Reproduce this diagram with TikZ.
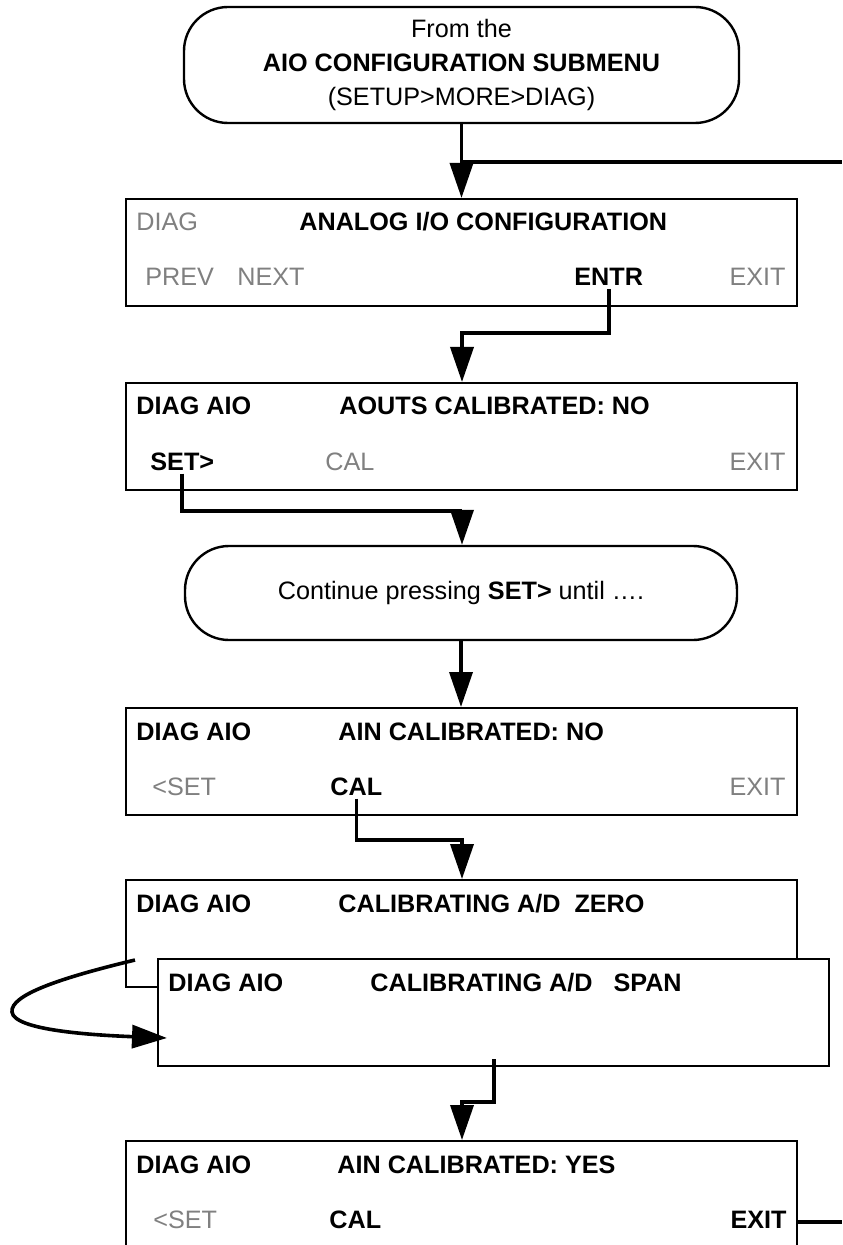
\documentclass[tikz,border=0pt]{standalone}
\usepackage{fontspec}
\setmainfont{Liberation Sans}
\usetikzlibrary{arrows.meta,calc}
\newcommand\figfs{\fontsize{12.6}{17}\selectfont}
\begin{document}
\begin{tikzpicture}[x=0.5pt,y=-0.5pt,
  font=\figfs,
  box/.style={draw,line width=1.2pt,fill=white,anchor=north west,inner sep=0pt,minimum width=335.5pt,minimum height=53.5pt},
  term/.style={draw,line width=1.2pt,rounded corners=22pt,align=center,inner sep=0pt},
  lab/.style={inner sep=1.5pt},
  bl/.style={lab,font=\figfs\bfseries},
  dim/.style={lab,text=black!50},
  conn/.style={line width=1.8pt,-{Triangle[length=17.5pt,width=11.5pt]}},
  wire/.style={line width=1.8pt},
]
\useasboundingbox (0,0) rectangle (842,1245);

% terminators
\node[term,minimum width=277.5pt,minimum height=58pt] (t1) at (461.5,65)
  {From the\\\textbf{AIO CONFIGURATION SUBMENU}\\(SETUP>MORE>DIAG)};
\node[term,minimum width=276pt,minimum height=47pt] (t2) at (461,593)
  {Continue pressing \textbf{SET>} until ….};

% boxes
\node[box] (b1) at (125,198) {};
\node[box] (b2) at (125,382) {};
\node[box] (b3) at (125,707) {};
\node[box] (b4) at (125,879) {};
\node[box] (b5) at (157,958) {};
\node[box] (b6) at (125,1140) {};

% box 1
\node[dim,anchor=base west] (b1a) at (133,231) {DIAG};
\node[bl,anchor=base west] (b1b) at (296,231) {ANALOG I/O CONFIGURATION};
\node[dim,anchor=base west] (b1c) at (142,286) {PREV};
\node[dim,anchor=base west] (b1d) at (234,286) {NEXT};
\node[bl,anchor=base west] (entr) at (571,286) {ENTR};
\node[dim,anchor=base east] (b1e) at (789,286) {EXIT};

% box 2
\node[bl,anchor=base west] (b2a) at (133,415) {DIAG AIO};
\node[bl,anchor=base west] (b2b) at (336,415) {AOUTS CALIBRATED: NO};
\node[bl,anchor=base west] (setb) at (147,470) {SET>};
\node[dim,anchor=base west] (b2c) at (322,470) {CAL};
\node[dim,anchor=base east] (b2d) at (789,470) {EXIT};

% box 3
\node[bl,anchor=base west] (b3a) at (133,740) {DIAG AIO};
\node[bl,anchor=base west] (b3b) at (335,740) {AIN CALIBRATED: NO};
\node[dim,anchor=base west] (b3c) at (149,795) {<SET};
\node[bl,anchor=base west] (cal3) at (327,795) {CAL};
\node[dim,anchor=base east] (b3d) at (789,795) {EXIT};

% box 4
\node[bl,anchor=base west] (b4a) at (133,912) {DIAG AIO};
\node[bl,anchor=base west] (b4b) at (335,912) {CALIBRATING A/D\ \ ZERO};

% box 5
\node[bl,anchor=base west] (b5a) at (165,991) {DIAG AIO};
\node[bl,anchor=base west] (b5b) at (367,991) {CALIBRATING A/D\ \ \ SPAN};

% box 6
\node[bl,anchor=base west] (b6a) at (133,1173) {DIAG AIO};
\node[bl,anchor=base west] (b6b) at (334,1173) {AIN CALIBRATED: YES};
\node[dim,anchor=base west] (b6c) at (150,1228) {<SET};
\node[bl,anchor=base west] (cal6) at (326,1228) {CAL};
\node[bl,anchor=base east] (exit6) at (790,1228) {EXIT};

% connectors
\coordinate (r1) at (842,162);
\coordinate (r2) at (842,1222);
\coordinate (k1) at (462,333);
\coordinate (k2) at (462,511);
\coordinate (k3) at (462,840);
\coordinate (k4) at (462,1102);
\coordinate (L0) at (135,960);
\coordinate (L1) at (167,1038);

\draw[conn] (t1.south) -- (t1.south |- b1.north);
\draw[wire] (t1.south |- r1) -- (r1);
\draw[conn] (entr.south) |- (k1) -- (k1 |- b2.north);
\draw[conn] (setb.south) |- (k2) -- (k2 |- t2.north);
\draw[conn] (t2.south) -- (t2.south |- b3.north);
\draw[conn] (cal3.south) |- (k3) -- (k3 |- b4.north);
\draw[conn] ($(b5.south)+(0,-8)$) |- (k4) -- (k4 |- b6.north);
\draw[wire] (b6.east |- r2) -- (r2);
\draw[conn] (L0) .. controls (60,978) and (10,995) .. (12,1012)
  .. controls (14,1030) and (90,1035) .. (L1);
\end{tikzpicture}
\end{document}
